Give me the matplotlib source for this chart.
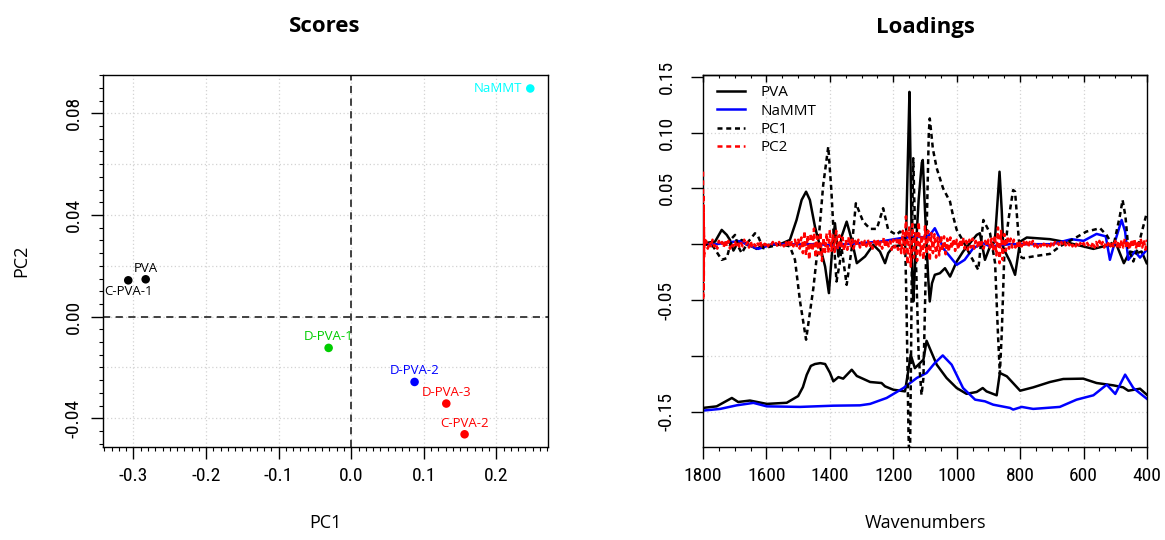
import numpy as np
import matplotlib.pyplot as plt
from matplotlib.lines import Line2D
from matplotlib.ticker import MultipleLocator
from matplotlib import font_manager

# ---- Scores (PC1 / PC2) ----
samples = ['NaMMT', 'PVA', 'C-PVA-1', 'D-PVA-1', 'D-PVA-2', 'D-PVA-3', 'C-PVA-2']
pc1 = [0.2466, -0.2832, -0.3072, -0.0312, 0.0872, 0.1309, 0.1561]
pc2 = [0.0898, 0.0147, 0.0143, -0.0123, -0.0257, -0.0342, -0.0463]
sample_colors = ['#00FFFF', 'black', 'black', '#00CD00', '#0000FF', '#FF0000', '#FF0000']
label_pos = ['left', 'above', 'below', 'above', 'above', 'above', 'above']

# ---- Loadings panel ----
pva_spec_w = [1800, 1757, 1709, 1689, 1652, 1599, 1536, 1500, 1485, 1473, 1460, 1447, 1430, 1415,
              1400, 1389, 1373, 1358, 1331, 1315, 1273, 1237, 1226, 1200, 1163, 1152, 1145, 1132,
              1105, 1095, 1063, 1032, 1000, 969, 937, 918, 906, 874, 864, 842, 800, 759, 706, 664,
              601, 559, 506, 475, 459, 422, 401]
pva_spec_v = [-0.1466, -0.1452, -0.1377, -0.1413, -0.140, -0.143, -0.142, -0.136, -0.128, -0.117,
              -0.109, -0.1073, -0.1065, -0.1073, -0.115, -0.1228, -0.119, -0.1204, -0.1124, -0.118,
              -0.1234, -0.1243, -0.1273, -0.1303, -0.1318, -0.112, -0.099, -0.111, -0.1034, -0.0865,
              -0.1079, -0.1198, -0.1288, -0.134, -0.1323, -0.1288, -0.1318, -0.1353, -0.1153, -0.1183,
              -0.1312, -0.1282, -0.1234, -0.1207, -0.1204, -0.1243, -0.1264, -0.1282, -0.1312,
              -0.1294, -0.1347]

nammt_spec_w = [1800, 1746, 1694, 1641, 1599, 1494, 1389, 1305, 1273, 1221, 1168, 1126, 1095, 1069,
                1044, 1016, 980, 942, 911, 885, 832, 822, 795, 759, 675, 622, 569, 527, 500, 469,
                443, 401]
nammt_spec_v = [-0.149, -0.1475, -0.1443, -0.1421, -0.1452, -0.1457, -0.1446, -0.1443, -0.143,
                -0.1377, -0.1288, -0.1198, -0.1153, -0.1064, -0.0996, -0.1079, -0.1288, -0.1392,
                -0.1407, -0.1437, -0.1466, -0.1481, -0.1457, -0.1475, -0.1457, -0.1392, -0.1353,
                -0.1258, -0.1341, -0.1168, -0.1288, -0.1383]

pva_der_w = [1800, 1794, 1762, 1741, 1725, 1715, 1704, 1694, 1678, 1662, 1646, 1631, 1610, 1557,
             1526, 1505, 1489, 1475, 1463, 1447, 1431, 1415, 1403, 1394, 1384, 1373, 1363, 1347,
             1331, 1315, 1289, 1263, 1242, 1226, 1216, 1200, 1168, 1160, 1152, 1149, 1145, 1140,
             1137, 1130, 1120, 1110, 1107, 1100, 1090, 1085, 1078, 1069, 1053, 1037, 1021, 1000,
             980, 937, 927, 911, 895, 880, 872, 865, 858, 853, 832, 816, 800, 779, 706, 664, 601,
             569, 538, 496, 473, 454, 433, 417, 401]
pva_der_v = [0.0, 0.001, 0.0023, 0.0128, 0.0083, 0.0038, -0.0057, -0.0006, 0.0038, -0.0006, -0.002,
             -0.0042, -0.001, 0.0, 0.0038, 0.0217, 0.0396, 0.047, 0.0396, 0.0157, -0.002, -0.020,
             -0.0438, -0.01, 0.0188, -0.011, 0.0068, 0.0202, 0.0038, -0.017, -0.011, -0.0006,
             -0.0066, -0.017, -0.008, -0.002, -0.0006, 0.005, 0.10, 0.1364, 0.06, -0.03, -0.0513,
             -0.01, 0.04, 0.073, 0.0754, 0.03, -0.03, -0.0513, -0.035, -0.0274, -0.026, -0.0215,
             -0.029, -0.0155, -0.0066, 0.0083, 0.0098, -0.014, -0.002, 0.002, 0.035, 0.0649, 0.03,
             -0.0036, -0.0155, -0.0274, 0.0023, 0.006, 0.0045, 0.0023, -0.002, -0.0042, -0.002,
             -0.0006, -0.017, -0.0066, -0.008, -0.0066, -0.017]

nammt_der_w = [1800, 1760, 1687, 1626, 1580, 1500, 1430, 1389, 1384, 1360, 1300, 1242, 1179, 1137,
               1095, 1080, 1069, 1055, 1043, 1000, 975, 948, 917, 895, 832, 700, 638, 600, 559,
               530, 517, 501, 480, 469, 459, 438, 422, 401]
nammt_der_v = [0.0, 0.0, 0.0028, -0.0042, 0.0, 0.0, 0.0, -0.0015, -0.004, 0.0, 0.001, 0.0023,
               0.0053, 0.0068, 0.006, 0.01, 0.0143, 0.006, -0.0036, -0.0185, -0.014, -0.0036,
               0.001, -0.002, 0.0, 0.0, 0.0045, 0.003, 0.0092, 0.007, -0.014, 0.0023, 0.0217,
               0.0113, -0.014, -0.0066, -0.012, -0.0051]

pc1_w = [1800, 1794, 1768, 1741, 1725, 1709, 1699, 1689, 1678, 1657, 1636, 1626, 1610, 1552, 1526,
         1510, 1494, 1475, 1452, 1436, 1421, 1405, 1395, 1384, 1379, 1368, 1363, 1347, 1331, 1318,
         1295, 1273, 1252, 1232, 1216, 1190, 1179, 1163, 1158, 1152, 1148, 1144, 1140, 1137, 1132,
         1120, 1111, 1105, 1095, 1088, 1085, 1075, 1063, 1043, 1021, 1011, 1000, 980, 958, 932,
         916, 895, 879, 870, 864, 858, 850, 837, 822, 816, 800, 791, 749, 706, 675, 630, 591, 548,
         527, 506, 485, 477, 468, 459, 443, 430, 412, 401]
pc1_v = [0.0, 0.0, -0.002, -0.014, -0.0125, 0.0053, 0.0083, -0.002, -0.008, 0.0023, 0.0098, 0.0068,
         -0.0036, 0.0, -0.002, -0.014, -0.0513, -0.0855, -0.0393, 0.0023, 0.053, 0.0873, 0.047,
         -0.0125, -0.0334, -0.0155, -0.0036, -0.0364, -0.0036, 0.0366, 0.0202, 0.0137, 0.0137,
         0.0322, 0.0128, 0.0083, 0.0113, 0.008, -0.06, -0.17, -0.21, -0.10, 0.03, 0.077, 0.02,
         -0.10, -0.135, -0.12, 0.01, 0.10, 0.1126, 0.085, 0.068, 0.05, 0.038, 0.0247, 0.0128,
         0.003, -0.0096, -0.023, 0.0217, 0.0098, -0.017, -0.08, -0.116, -0.08, -0.01, 0.0217,
         0.0485, 0.047, -0.011, -0.0125, -0.0105, -0.0087, -0.002, 0.005, 0.0113, 0.0143, 0.008,
         -0.002, 0.0262, 0.0396, 0.025, -0.0036, -0.0155, -0.004, 0.0157, 0.0277]

pc2_edge_w = [1800, 1799.5, 1799, 1798.5, 1798, 1797.5, 1797, 1796.5, 1796]
pc2_edge_v = [0.065, -0.05, 0.045, -0.042, 0.03, -0.03, 0.015, -0.012, 0.004]
pc2_grid_v = [
    0.003, -0.004, 0.002, -0.003, 0.004, -0.002, 0.001, -0.004, 0.003, -0.001, 0.002, -0.003, 0.004, -0.002, 0.003, -0.004, 0.001, -0.002, 0.003, -0.001,
    0.002, -0.003, 0.001, -0.002, 0.004, -0.001, 0.002, -0.003, 0.003, -0.002, 0.001, -0.002, 0.002, -0.001, 0.003, -0.002, 0.001, -0.001, 0.002, -0.002,
    0.001, -0.001, 0.002, -0.001, 0.001, -0.002, 0.002, -0.001, 0.001, -0.002, 0.003, -0.002, 0.002, -0.003, 0.003, -0.002, 0.004, -0.003, 0.005, -0.004,
    0.006, -0.008, 0.012, -0.010, 0.008, -0.014, 0.010, -0.006, 0.014, -0.012, 0.007, -0.009, 0.011, -0.015, 0.006, -0.007, 0.010, -0.008, 0.013, -0.006,
    0.009, -0.007, 0.012, -0.005, 0.008, -0.004, 0.006, -0.006, 0.004, -0.005, 0.007, -0.003, 0.005, -0.004, 0.003, -0.002, 0.004, -0.003, 0.002, -0.003,
    0.003, -0.002, 0.004, -0.003, 0.002, -0.004, 0.003, -0.002, 0.005, -0.003, 0.002, -0.004, 0.006, -0.003, 0.004, -0.002, 0.003, -0.005, 0.004, -0.003,
    0.004, -0.005, 0.006, -0.008, 0.012, -0.010, 0.025, -0.018, 0.015, -0.020, 0.018, -0.012, 0.010, -0.015, 0.020, -0.010, 0.008, -0.014, 0.016, -0.009,
    0.012, -0.015, 0.010, -0.008, 0.009, -0.012, 0.006, -0.010, 0.008, -0.006, 0.007, -0.009, 0.005, -0.007, 0.006, -0.004, 0.005, -0.006, 0.004, -0.005,
    0.004, -0.003, 0.006, -0.004, 0.003, -0.005, 0.004, -0.003, 0.005, -0.004, 0.003, -0.002, 0.004, -0.003, 0.002, -0.004, 0.003, -0.002, 0.004, -0.003,
    0.005, -0.006, 0.008, -0.010, 0.015, -0.017, 0.012, -0.014, 0.009, -0.006, 0.007, -0.004, 0.005, -0.003, 0.004, -0.003, 0.002, -0.004, 0.003, -0.002,
    0.003, -0.002, 0.002, -0.003, 0.002, -0.001, 0.003, -0.002, 0.002, -0.003, 0.001, -0.002, 0.002, -0.001, 0.002, -0.002, 0.001, -0.002, 0.002, -0.001,
    0.002, -0.001, 0.001, -0.002, 0.002, -0.001, 0.002, -0.002, 0.001, -0.001, 0.002, -0.002, 0.001, -0.002, 0.002, -0.001, 0.001, -0.002, 0.001, -0.001,
    0.002, -0.001, 0.001, -0.002, 0.002, -0.003, 0.002, -0.002, 0.003, -0.002, 0.002, -0.003, 0.002, -0.001, 0.003, -0.002, 0.002, -0.003, 0.003, -0.002,
    0.003, -0.004, 0.004, -0.003, 0.005, -0.004, 0.003, -0.005, 0.004, -0.003, 0.005, -0.004, 0.003, -0.004, 0.005, -0.003, 0.004, -0.005, 0.004,
]
pc2_grid_w = np.arange(1790, 399, -5)

legend_labels = ['PVA', 'NaMMT', 'PC1', 'PC2']

# narrow font for tick labels, whichever is installed
names = {f.name for f in font_manager.fontManager.ttflist}
cond_dejavu = any(f.name == 'DejaVu Sans' and f.stretch == 'condensed'
                  for f in font_manager.fontManager.ttflist)
if 'Liberation Sans Narrow' in names:
    tick_fp = dict(family='Liberation Sans Narrow', size=14.5)
elif 'Roboto Condensed' in names:
    tick_fp = dict(family='Roboto Condensed', size=14)
elif cond_dejavu:
    tick_fp = dict(family='DejaVu Sans', stretch='condensed', size=13.5)
else:
    tick_fp = dict(family='Open Sans', stretch='condensed', size=13)

text_font = ['Open Sans', 'DejaVu Sans']
grid_kw = dict(color='#d3d3d3', lw=0.9, ls=(0, (1, 2)), zorder=0)
dot = (0, (2, 1.5))
lw = 1.8

fig = plt.figure(figsize=(11.65, 5.4), dpi=100)
ax1 = fig.add_axes([103 / 1165, 93 / 540, 445 / 1165, 372 / 540])
ax2 = fig.add_axes([703 / 1165, 93 / 540, 444 / 1165, 372 / 540])

for ax in (ax1, ax2):
    for s in ax.spines.values():
        s.set_linewidth(1.0)
    ax.tick_params(which='major', length=8.6, width=1.0, direction='out')
    ax.tick_params(which='minor', length=2.9, width=0.8, direction='out')

# ---------- Scores ----------
ax1.set_xlim(-0.342, 0.271)
ax1.set_ylim(-0.0513, 0.0951)
xt = [-0.3, -0.2, -0.1, 0.0, 0.1, 0.2]
yt = [-0.04, 0.0, 0.04, 0.08]
for x in xt:
    ax1.axvline(x, **grid_kw)
for y in np.arange(-0.04, 0.081, 0.02):
    ax1.axhline(y, **grid_kw)
ax1.axhline(0, color='#333333', lw=1.3, ls=(0, (4, 3)), zorder=1)
ax1.axvline(0, color='#333333', lw=1.3, ls=(0, (4, 3)), zorder=1)

ax1.scatter(pc1, pc2, c=sample_colors, s=38, zorder=3, linewidths=0)
offsets = {'above': ((0, 8), 'center', 'center'),
           'below': ((0, -8), 'center', 'center'),
           'left': ((-6, 0), 'right', 'center')}
for name, x, y, c, p in zip(samples, pc1, pc2, sample_colors, label_pos):
    off, ha, va = offsets[p]
    ax1.annotate(name, (x, y), xytext=off, textcoords='offset points', ha=ha, va=va,
                 color=c, fontsize=9.5, family=text_font, zorder=4)

ax1.set_xticks(xt)
ax1.set_xticklabels(['-0.3', '-0.2', '-0.1', '0.0', '0.1', '0.2'], **tick_fp)
ax1.set_yticks(yt)
ax1.set_yticklabels(['-0.04', '0.00', '0.04', '0.08'], rotation=90, va='center', **tick_fp)
ax1.xaxis.set_minor_locator(MultipleLocator(0.01))
ax1.yaxis.set_minor_locator(MultipleLocator(0.005))
ax1.tick_params(axis='x', pad=6)
ax1.tick_params(axis='y', pad=6)

# ---------- Loadings ----------
ax2.set_xlim(1800, 400)
ax2.set_ylim(-0.1816, 0.1515)
for x in range(1600, 599, -200):
    ax2.axvline(x, **grid_kw)
for y in [-0.15, -0.10, -0.05, 0.0, 0.05, 0.10]:
    ax2.axhline(y, **grid_kw)

ax2.plot(pva_spec_w, pva_spec_v, color='black', lw=lw, zorder=2)
ax2.plot(nammt_spec_w, nammt_spec_v, color='#0000FF', lw=lw, zorder=2)
ax2.plot(pva_der_w, pva_der_v, color='black', lw=lw, zorder=2)
ax2.plot(nammt_der_w, nammt_der_v, color='#0000FF', lw=lw, zorder=2)
ax2.plot(pc1_w, pc1_v, color='black', lw=lw, ls=dot, zorder=3)
ax2.plot(pc2_edge_w + list(pc2_grid_w), pc2_edge_v + pc2_grid_v, color='#FF0000', lw=lw,
         ls=dot, zorder=4)

ax2.set_xticks(range(1800, 399, -200))
ax2.set_xticklabels([str(v) for v in range(1800, 399, -200)], **tick_fp)
ax2.xaxis.set_minor_locator(MultipleLocator(50))
yt2 = [-0.15, -0.10, -0.05, 0.0, 0.05, 0.10, 0.15]
ax2.set_yticks(yt2)
ax2.set_yticklabels(['-0.15', '', '-0.05', '', '0.05', '0.10', '0.15'], rotation=90,
                    va='center', **tick_fp)
ax2.tick_params(axis='x', pad=6)
ax2.tick_params(axis='y', pad=11)

top = ax2.secondary_xaxis('top')
top.set_xticks(range(1800, 399, -200))
top.xaxis.set_minor_locator(MultipleLocator(50))
top.tick_params(which='major', direction='in', length=5, width=1.0, labeltop=False)
top.tick_params(which='minor', direction='in', length=2.5, width=0.8)
top.spines['top'].set_linewidth(1.0)

handles = [Line2D([], [], color='black', lw=lw),
           Line2D([], [], color='#0000FF', lw=lw),
           Line2D([], [], color='black', lw=lw, ls=dot),
           Line2D([], [], color='#FF0000', lw=lw, ls=dot)]
ax2.legend(handles, legend_labels, loc='upper left', bbox_to_anchor=(0.031, 0.972),
           frameon=False, borderpad=0, borderaxespad=0, handlelength=1.85, handletextpad=1.0,
           labelspacing=0.22, prop={'family': text_font, 'size': 11})

# titles and axis labels
fig.text(325 / 1165, 1 - 27 / 540, 'Scores', ha='center', va='center', fontsize=16,
         fontweight='bold', family=text_font)
fig.text(925 / 1165, 1 - 27 / 540, 'Loadings', ha='center', va='center', fontsize=16,
         fontweight='bold', family=text_font)
fig.text(325 / 1165, 1 - 523 / 540, 'PC1', ha='center', va='center', fontsize=13,
         family=text_font)
fig.text(925 / 1165, 1 - 523 / 540, 'Wavenumbers', ha='center', va='center', fontsize=13,
         family=text_font)
fig.text(21 / 1165, 1 - 261 / 540, 'PC2', ha='center', va='center', fontsize=13,
         rotation=90, family=text_font)

fig.savefig('out.png', dpi=100)
